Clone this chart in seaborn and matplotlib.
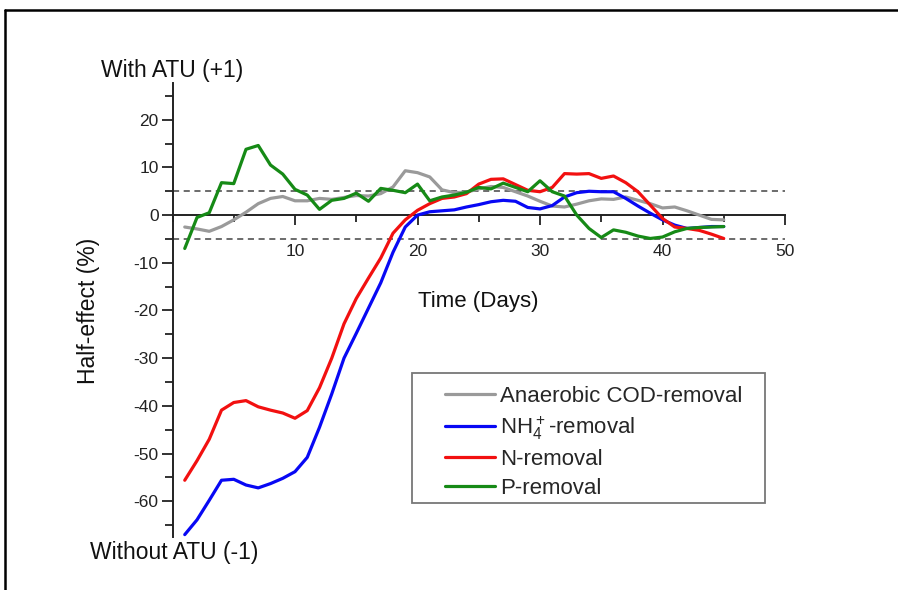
import numpy as np
import pandas as pd
import matplotlib
matplotlib.use("Agg")
import matplotlib.pyplot as plt
from matplotlib.lines import Line2D
from matplotlib.patches import Rectangle
from matplotlib.ticker import MultipleLocator, FixedLocator
import seaborn as sns

days = list(range(1, 46))

cod_removal = [-2.5, -2.9, -3.4, -2.4, -1.0, 0.6, 2.4, 3.5, 3.9, 3.0,
               3.0, 3.5, 3.3, 3.7, 4.1, 4.0, 4.5, 5.9, 9.3, 8.9,
               8.0, 5.3, 4.7, 4.8, 5.5, 6.0, 5.8, 4.9, 4.0, 2.9,
               1.9, 1.7, 2.3, 3.0, 3.4, 3.3, 3.8, 3.1, 2.4, 1.5,
               1.7, 0.9, 0.0, -0.9, -1.0]

nh4_removal = [-67.0, -63.9, -59.8, -55.6, -55.4, -56.6, -57.2, -56.3, -55.2, -53.8,
               -50.8, -44.5, -37.5, -30.0, -24.8, -19.5, -14.2, -7.8, -2.5, 0.0,
               0.7, 0.9, 1.1, 1.7, 2.2, 2.8, 3.1, 2.9, 1.6, 1.3,
               2.0, 3.8, 4.7, 5.0, 4.9, 4.9, 3.5, 1.9, 0.4, -1.0,
               -2.1, -2.8, -2.6, -2.4, -2.4]

n_removal = [-55.6, -51.5, -47.0, -40.9, -39.3, -38.9, -40.2, -40.9, -41.5, -42.6,
             -41.0, -36.2, -30.0, -22.8, -17.5, -13.2, -9.0, -3.8, -1.0, 1.0,
             2.4, 3.5, 3.8, 4.5, 6.5, 7.5, 7.6, 6.4, 5.2, 4.9,
             5.8, 8.7, 8.6, 8.7, 7.7, 8.2, 6.8, 4.9, 2.1, -0.7,
             -2.5, -2.8, -3.2, -4.0, -4.9]

p_removal = [-7.0, -0.5, 0.5, 6.8, 6.6, 13.8, 14.6, 10.5, 8.6, 5.4,
             4.2, 1.2, 3.1, 3.5, 4.6, 2.9, 5.6, 5.2, 4.7, 6.5,
             3.0, 3.8, 4.2, 4.8, 5.8, 5.5, 6.7, 5.8, 4.9, 7.2,
             4.9, 4.0, 0.0, -2.8, -4.7, -3.1, -3.6, -4.4, -4.9, -4.6,
             -3.5, -2.8, -2.6, -2.5, -2.4]

series_names = ["Anaerobic COD-removal", r"NH$\mathregular{_4^+}$-removal",
                "N-removal", "P-removal"]
series_values = [cod_removal, nh4_removal, n_removal, p_removal]
series_colors = ["#9a9a9a", "#0808f4", "#f21010", "#168a16"]

x_major_ticks = [10, 20, 30, 40, 50]
y_major_ticks = [-60, -50, -40, -30, -20, -10, 0, 10, 20]

df = pd.DataFrame({
    "Day": days * len(series_names),
    "Value": sum(series_values, []),
    "Series": sum([[n] * len(days) for n in series_names], []),
})

sns.set_style("white")
plt.rcParams["font.family"] = ["Liberation Sans", "DejaVu Sans"]
plt.rcParams["mathtext.fontset"] = "custom"
plt.rcParams["mathtext.rm"] = "Liberation Sans"
plt.rcParams["axes.unicode_minus"] = False

W, H = 898, 590
fig = plt.figure(figsize=(W / 100, H / 100), dpi=100)
ax = fig.add_axes([172.5 / W, 1 - 537 / H, (785 - 172.5) / W, (537 - 83) / H])

sns.lineplot(data=df, x="Day", y="Value", hue="Series", hue_order=series_names,
             palette=dict(zip(series_names, series_colors)), linewidth=2.3, ax=ax)

ax.axhline(5, color="#444444", lw=1.1, ls=(0, (4, 3)), zorder=1)
ax.axhline(-5, color="#444444", lw=1.1, ls=(0, (4, 3)), zorder=1)

ax.set_xlim(0, 50)
ax.set_ylim(-67.5, 27.7)

for s in ["top", "right"]:
    ax.spines[s].set_visible(False)
ax.spines["bottom"].set_position(("data", 0))
ax.spines["bottom"].set_zorder(0.5)
for s in ["left", "bottom"]:
    ax.spines[s].set_color("#222222")
    ax.spines[s].set_linewidth(1.4)

ax.xaxis.set_major_locator(FixedLocator(x_major_ticks))
ax.xaxis.set_minor_locator(MultipleLocator(5))
ax.yaxis.set_major_locator(FixedLocator(y_major_ticks))
ax.yaxis.set_minor_locator(MultipleLocator(5))
ax.tick_params(axis="x", which="both", direction="out", bottom=True, color="#222222", width=1.3, labelsize=12.5, labelcolor="#222222")
ax.tick_params(axis="x", which="major", length=7, pad=14)
ax.tick_params(axis="x", which="minor", length=5)
ax.tick_params(axis="y", which="both", direction="out", left=True, color="#222222", width=1.3, labelsize=12.5, labelcolor="#222222")
ax.tick_params(axis="y", which="major", length=8, pad=2)
ax.tick_params(axis="y", which="minor", length=6)
ax.set_xlabel("")
ax.set_ylabel("")

fig.text(89 / W, 1 - 311 / H, "Half-effect (%)", rotation=90, ha="center", va="center", fontsize=16.5, color="#111111")
fig.text(478 / W, 1 - 302 / H, "Time (Days)", ha="center", va="center", fontsize=16, color="#111111")
fig.text(101 / W, 1 - 71 / H, "With ATU (+1)", ha="left", va="center", fontsize=16.5, color="#111111")
fig.text(90 / W, 1 - 553 / H, "Without ATU (-1)", ha="left", va="center", fontsize=16.5, color="#111111")

handles, labels = ax.get_legend_handles_labels()
leg = ax.legend(handles, labels, loc="upper left", bbox_to_anchor=(445 / W, 1 - 386 / H),
                bbox_transform=fig.transFigure, fontsize=16, frameon=False,
                handlelength=2.25, handletextpad=0.22, labelspacing=0.33,
                borderpad=0, borderaxespad=0)
for h in leg.get_lines():
    h.set_linewidth(2.3)

fig.add_artist(Rectangle((412 / W, 1 - 503 / H), (765 - 412) / W, (503 - 373) / H,
                         transform=fig.transFigure, fill=False, edgecolor="#777777", lw=1.3))

fig.add_artist(Line2D([5 / W, 1], [1 - 10 / H, 1 - 10 / H], transform=fig.transFigure, color="black", lw=1.8))
fig.add_artist(Line2D([5 / W, 5 / W], [0, 1 - 10 / H], transform=fig.transFigure, color="black", lw=1.8))

fig.savefig("out.png", dpi=100)
